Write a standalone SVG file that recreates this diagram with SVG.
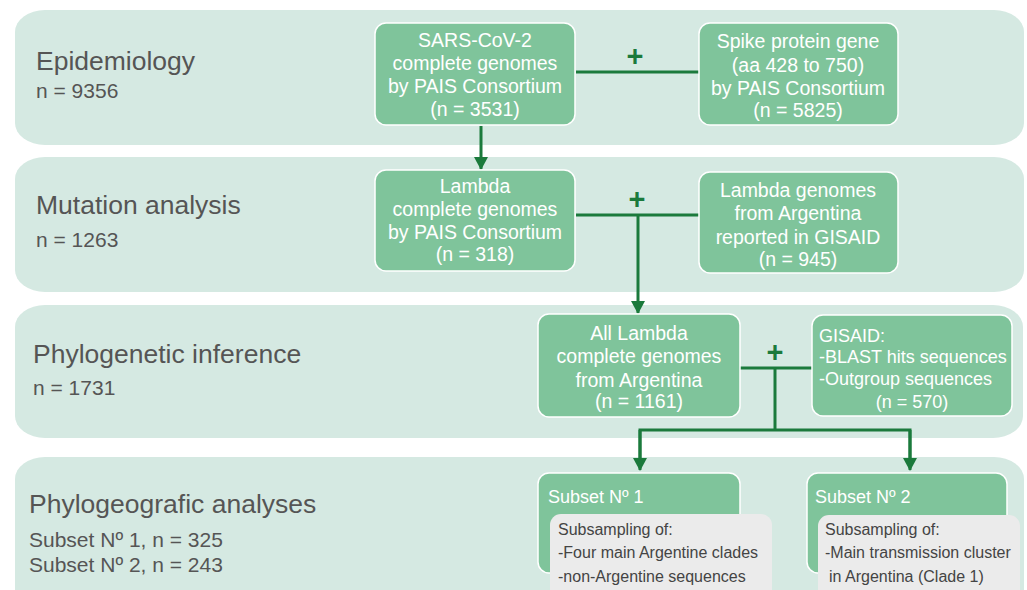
<svg xmlns="http://www.w3.org/2000/svg" width="1027" height="590" viewBox="0 0 1027 590">
<defs>
<style>
.band{fill:#d5e9e2}
.node{fill:#7fc49b;stroke:#ffffff;stroke-width:1.5}
.gray{fill:#ebebeb}
.lbl{font-family:"Liberation Sans",Arial,sans-serif;fill:#555555}
.nt{font-family:"Liberation Sans",Arial,sans-serif;fill:#ffffff;text-anchor:middle;font-size:19.5px}
.nl{font-family:"Liberation Sans",Arial,sans-serif;fill:#ffffff;font-size:18px}
.gt{font-family:"Liberation Sans",Arial,sans-serif;fill:#444444;font-size:16px}
.conn{stroke:#1b7a3c;stroke-width:3;fill:none}
.plus{font-family:"Liberation Sans",Arial,sans-serif;font-weight:bold;fill:#1b7a3c;font-size:29px;text-anchor:middle}
</style>
<marker id="arr" markerWidth="14" markerHeight="14" refX="12" refY="7" orient="auto" markerUnits="userSpaceOnUse">
<path d="M0,0 L13,7 L0,14 z" fill="#1b7a3c"/>
</marker>
</defs>
<rect width="1027" height="590" fill="#ffffff"/>
<g id="band-epidemiology">
<rect class="band" x="15" y="10" width="1009" height="135" rx="30" ry="22"/>
<text class="lbl" x="36" y="70" font-size="26.5">Epidemiology</text>
<text class="lbl" x="36" y="98" font-size="21">n = 9356</text>
</g>
<g id="band-mutation">
<rect class="band" x="15" y="157" width="1009" height="135" rx="30" ry="22"/>
<text class="lbl" x="36" y="214" font-size="26.5">Mutation analysis</text>
<text class="lbl" x="36" y="247" font-size="21">n = 1263</text>
</g>
<g id="band-phylogenetic">
<rect class="band" x="15" y="305" width="1008" height="133" rx="30" ry="22"/>
<text class="lbl" x="33" y="363" font-size="26.5">Phylogenetic inference</text>
<text class="lbl" x="33" y="395" font-size="21">n = 1731</text>
</g>
<g id="band-phylogeografic">
<rect class="band" x="15" y="457" width="1009" height="160" rx="30" ry="22"/>
<text class="lbl" x="29" y="513" font-size="26.5">Phylogeografic analyses</text>
<text class="lbl" x="29" y="547" font-size="21">Subset Nº 1, n = 325</text>
<text class="lbl" x="29" y="572" font-size="21">Subset Nº 2, n = 243</text>
</g>
<g id="connectors">
<line class="conn" x1="481" y1="126" x2="481" y2="169" marker-end="url(#arr)"/>
<line class="conn" x1="576" y1="72" x2="699" y2="72"/>
<text class="plus" x="635" y="66">+</text>
<line class="conn" x1="576" y1="215" x2="699" y2="215"/>
<text class="plus" x="637" y="209">+</text>
<line class="conn" x1="638" y1="215" x2="638" y2="313" marker-end="url(#arr)"/>
<line class="conn" x1="740" y1="368" x2="812" y2="368"/>
<text class="plus" x="775" y="362">+</text>
<line class="conn" x1="775" y1="368" x2="775" y2="430"/>
<polyline class="conn" points="640,460 640,430 910,430 910,460"/>
<line class="conn" x1="640" y1="430" x2="640" y2="470" marker-end="url(#arr)"/>
<line class="conn" x1="910" y1="430" x2="910" y2="470" marker-end="url(#arr)"/>
</g>
<g id="node-sars">
<rect class="node" x="375" y="23" width="200" height="102" rx="11"/>
<text class="nt" x="475" y="47">SARS-CoV-2</text>
<text class="nt" x="475" y="70">complete genomes</text>
<text class="nt" x="475" y="93">by PAIS Consortium</text>
<text class="nt" x="475" y="116" font-size="17.5px">(n = 3531)</text>
</g>
<g id="node-spike">
<rect class="node" x="699" y="23" width="199" height="102" rx="11"/>
<text class="nt" x="798" y="48">Spike protein gene</text>
<text class="nt" x="798" y="72">(aa 428 to 750)</text>
<text class="nt" x="798" y="95">by PAIS Consortium</text>
<text class="nt" x="798" y="117" font-size="17.5px">(n = 5825)</text>
</g>
<g id="node-lambda-pais">
<rect class="node" x="375" y="170" width="200" height="101" rx="11"/>
<text class="nt" x="475" y="193">Lambda</text>
<text class="nt" x="475" y="216">complete genomes</text>
<text class="nt" x="475" y="239">by PAIS Consortium</text>
<text class="nt" x="475" y="261" font-size="17.5px">(n = 318)</text>
</g>
<g id="node-lambda-gisaid">
<rect class="node" x="699" y="172" width="199" height="101" rx="11"/>
<text class="nt" x="798" y="197">Lambda genomes</text>
<text class="nt" x="798" y="220">from Argentina</text>
<text class="nt" x="798" y="244">reported in GISAID</text>
<text class="nt" x="798" y="266" font-size="17.5px">(n = 945)</text>
</g>
<g id="node-all-lambda">
<rect class="node" x="538" y="314" width="202" height="103" rx="11"/>
<text class="nt" x="639" y="340">All Lambda</text>
<text class="nt" x="639" y="363">complete genomes</text>
<text class="nt" x="639" y="387">from Argentina</text>
<text class="nt" x="639" y="408" font-size="17.5px">(n = 1161)</text>
</g>
<g id="node-gisaid">
<rect class="node" x="812" y="315" width="200" height="101" rx="11"/>
<text class="nl" x="819" y="342">GISAID:</text>
<text class="nl" x="819" y="363">-BLAST hits sequences</text>
<text class="nl" x="819" y="385">-Outgroup sequences</text>
<text class="nl" x="912" y="408" text-anchor="middle" font-size="17.5px">(n = 570)</text>
</g>
<g id="node-subset1">
<rect class="node" x="538" y="473" width="202" height="100" rx="11"/>
<text class="nl" x="548" y="503" font-size="20px">Subset Nº 1</text>
<rect class="gray" x="550" y="514" width="222" height="100" rx="11"/>
<text class="gt" x="558" y="535">Subsampling of:</text>
<text class="gt" x="558" y="558">-Four main Argentine clades</text>
<text class="gt" x="558" y="582">-non-Argentine sequences</text>
</g>
<g id="node-subset2">
<rect class="node" x="807" y="473" width="200" height="100" rx="11"/>
<text class="nl" x="815" y="503" font-size="20px">Subset Nº 2</text>
<rect class="gray" x="818" y="515" width="202" height="100" rx="11"/>
<text class="gt" x="825" y="535">Subsampling of:</text>
<text class="gt" x="825" y="558">-Main transmission cluster</text>
<text class="gt" x="829" y="582">in Argentina (Clade 1)</text>
</g>
</svg>
